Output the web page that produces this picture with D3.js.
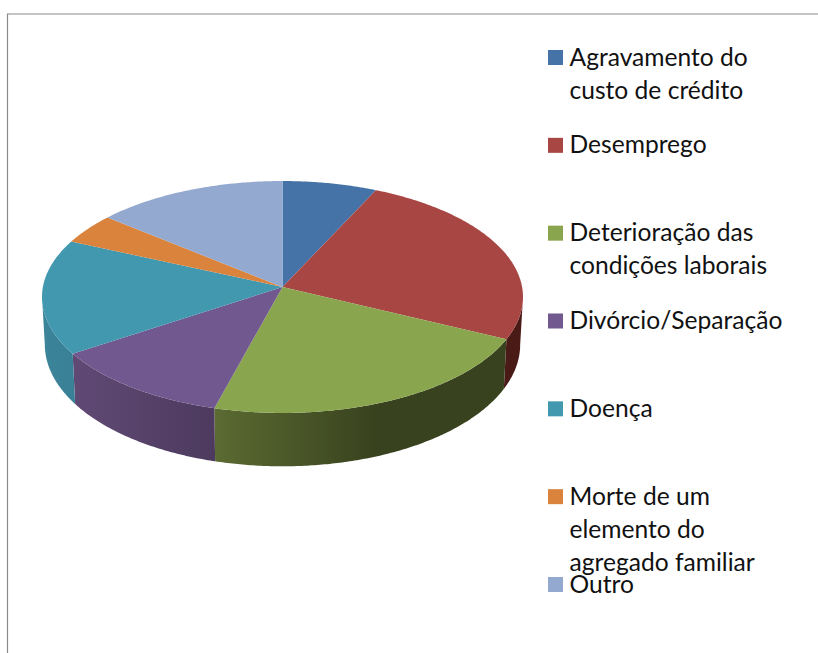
<!DOCTYPE html>
<html lang="pt">
<head>
<meta charset="utf-8">
<title>Pie chart</title>
<script src="https://cdn.jsdelivr.net/npm/d3@7"></script>
<style>
  html, body { margin: 0; padding: 0; background: #fff; }
  svg { display: block; }
  text { font-family: Lato, "Open Sans", sans-serif; fill: #111; }
</style>
</head>
<body>
<script>
// values, in percent
const categories = ["Agravamento do custo de crédito", "Desemprego", "Deterioração das condições laborais",
  "Divórcio/Separação", "Doença", "Morte de um elemento do agregado familiar", "Outro"];
const values = [6.9, 25.3, 22.0, 11.5, 16.0, 4.3, 14.0];
const legendLines = [["Agravamento do", "custo de crédito"], ["Desemprego"], ["Deterioração das", "condições laborais"],
  ["Divórcio/Separação"], ["Doença"], ["Morte de um", "elemento do", "agregado familiar"], ["Outro"]];
const colors = ["#4573a7", "#a84644", "#89a54e", "#71588f", "#4198af", "#da833c", "#93a9cf"];
// side wall shading, [left edge colour, right edge colour]
const wallColors = [["#2a4566", "#2a4566"], ["#4a1a16", "#4a1a16"], ["#5b6b32", "#39421e"],
  ["#604a75", "#4d3a5e"], ["#3c8499", "#398097"], ["#8a5226", "#8a5226"], ["#5c6a82", "#5c6a82"]];

const width = 818;
const height = 653;

const svg = d3.select("body").append("svg")
  .attr("width", width)
  .attr("height", height);

// Frame, only top and left are visible
svg.append("path")
  .attr("d", `M7.5,${height}V14H${width}`)
  .attr("fill", "none")
  .attr("stroke", "#8a8a8a")
  .attr("stroke-width", 1.2);

// Perspective of the disc: far side shrinks a bit
const persp = 0.0862;
const top3d = { cx: 282.5, cy: 287, rx: 239.6, ry: 115.1 };
const bottom3d = { cx: 282.5, cy: 334, rx: 236.8, ry: 120.9 };

function project(disc, a) {
  const w = 1 + persp * Math.cos(a);
  return [disc.cx + disc.rx * Math.sin(a) / w, disc.cy - disc.ry * Math.cos(a) / w];
}

function arcPoints(disc, a0, a1) {
  const n = Math.max(2, Math.ceil((a1 - a0) / 0.01));
  return d3.range(n + 1).map(i => project(disc, a0 + (a1 - a0) * i / n));
}

const line = d3.line();
const pie = d3.pie().sort(null).value(d => d);
const slices = pie(values);
const color = d3.scaleOrdinal().domain(d3.range(categories.length)).range(colors);

// Walls are only seen between the two side tangents of the disc
const visibleFrom = Math.acos(-persp);
const visibleTo = 2 * Math.PI - visibleFrom;
const defs = svg.append("defs");

slices.forEach((s, i) => {
  const a0 = Math.max(s.startAngle, visibleFrom);
  const a1 = Math.min(s.endAngle, visibleTo);
  if (a1 <= a0) return;

  const topEdge = arcPoints(top3d, a0, a1);
  const bottomEdge = arcPoints(bottom3d, a0, a1).reverse();
  const xs = topEdge.concat(bottomEdge).map(p => p[0]);

  const grad = defs.append("linearGradient")
    .attr("id", "wall" + i)
    .attr("gradientUnits", "userSpaceOnUse")
    .attr("x1", d3.min(xs)).attr("x2", d3.max(xs))
    .attr("y1", 0).attr("y2", 0);

  // green wall goes flat dark on its right half
  let stops = [[0, wallColors[i][0]], [1, wallColors[i][1]]];
  if (i == 2) stops = [[0, wallColors[i][0]], [0.55, wallColors[i][1]], [1, wallColors[i][1]]];

  grad.selectAll("stop").data(stops).enter().append("stop")
    .attr("offset", d => d[0])
    .attr("stop-color", d => d[1]);

  svg.append("path")
    .attr("d", line(topEdge.concat(bottomEdge)) + "Z")
    .attr("fill", `url(#wall${i})`);
});

// Top of the pie
svg.selectAll(".slice")
  .data(slices)
  .enter().append("path")
  .attr("class", "slice")
  .attr("d", d => line([[top3d.cx, top3d.cy]].concat(arcPoints(top3d, d.startAngle, d.endAngle))) + "Z")
  .attr("fill", (d, i) => color(i));

// Legend
const legendY = d3.scaleLinear().domain([0, categories.length - 1]).range([50, 577]);

const legend = svg.selectAll(".legend")
  .data(categories)
  .enter().append("g")
  .attr("class", "legend")
  .attr("transform", (d, i) => `translate(548,${legendY(i)})`);

legend.append("rect")
  .attr("width", 15)
  .attr("height", 15)
  .attr("fill", (d, i) => color(i));

legend.selectAll("text")
  .data((d, i) => legendLines[i])
  .enter().append("text")
  .attr("x", 21.5)
  .attr("y", (d, i) => 15.5 + i * 33.2)
  .attr("font-size", 24.6)
  .text(d => d);
</script>
</body>
</html>
